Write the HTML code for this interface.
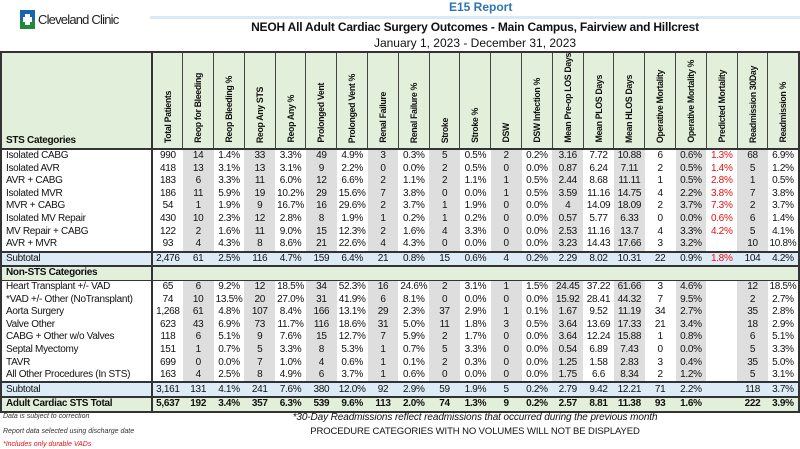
<!DOCTYPE html>
<html><head><meta charset="utf-8">
<style>
body{margin:0;width:800px;height:449px;background:#fff;position:relative;overflow:hidden;font-family:"Liberation Sans",sans-serif;color:#111}
.abs{position:absolute}
table{position:absolute;left:0;top:51px;width:800px;border-collapse:collapse;table-layout:fixed;border:2px solid #333;font-size:10px;letter-spacing:-0.3px}
col.g{background:#dedede}
td{padding:0;height:12.6px;line-height:12px;text-align:center;white-space:nowrap;overflow:hidden}
td.c{text-align:left;padding-left:4px;border-right:2px solid #333}
tr.h td{height:90px;line-height:10px;background:#e2efda;border-right:1px solid #444;border-bottom:2px solid #333;vertical-align:bottom;font-weight:bold}
tr.h td.c{border-right:2px solid #333;padding-bottom:2px}
.v{writing-mode:vertical-rl;transform:rotate(180deg);display:inline-block;font-size:8.8px;letter-spacing:-0.35px;padding-top:2px;line-height:10px}
tr.s td{background:#ddebf7;border-top:2px solid #333;border-bottom:2px solid #333}
tr.n td{background:#e2efda;font-weight:bold;border-bottom:1px solid #333}
tr.t td{background:#e2efda;font-weight:bold;border-top:2px solid #333}
.r{color:#e81010}
</style></head><body>
<div class="abs" style="left:20px;top:10px;width:15px;height:10px;background:#1565b0"></div>
<div class="abs" style="left:20px;top:20px;width:15px;height:9px;background:#1f8a3c"></div>
<div class="abs" style="left:25px;top:14px;width:5px;height:11px;background:#fff"></div>
<div class="abs" style="left:23px;top:17px;width:9px;height:5px;background:#fff"></div>
<div class="abs" style="left:38px;top:12px;font-size:13px;letter-spacing:-0.8px;color:#222">Cleveland Clinic</div>
<div class="abs" style="left:150px;top:16px;width:650px;height:3px;background:#dbe8f5"></div>
<div class="abs" style="left:449px;top:0px;font-size:12px;font-weight:bold;color:#2e75b6">E15 Report</div>
<div class="abs" style="left:150px;width:650px;top:20px;text-align:center;font-size:12px;font-weight:bold;letter-spacing:-0.2px">NEOH All Adult Cardiac Surgery Outcomes - Main Campus, Fairview and Hillcrest</div>
<div class="abs" style="left:150px;width:650px;top:36px;text-align:center;font-size:12px">January 1, 2023 - December 31, 2023</div>
<table>
<colgroup><col style="width:151px"><col><col class="g"><col><col class="g"><col><col class="g"><col><col class="g"><col><col class="g"><col><col class="g"><col><col class="g"><col><col class="g"><col><col class="g"><col><col class="g"><col></colgroup>
<tr class="h"><td class="c">STS Categories</td><td><span class="v">Total Patients</span></td><td><span class="v">Reop for Bleeding</span></td><td><span class="v">Reop Bleeding %</span></td><td><span class="v">Reop Any STS</span></td><td><span class="v">Reop Any %</span></td><td><span class="v">Prolonged Vent</span></td><td><span class="v">Prolonged Vent %</span></td><td><span class="v">Renal Failure</span></td><td><span class="v">Renal Failure %</span></td><td><span class="v">Stroke</span></td><td><span class="v">Stroke %</span></td><td><span class="v">DSW</span></td><td><span class="v">DSW Infection %</span></td><td><span class="v">Mean Pre-op LOS Days</span></td><td><span class="v">Mean PLOS Days</span></td><td><span class="v">Mean HLOS Days</span></td><td><span class="v">Operative Mortality</span></td><td><span class="v">Operative Mortality %</span></td><td><span class="v">Predicted Mortality</span></td><td><span class="v">Readmission 30Day</span></td><td style="border-right:none"><span class="v">Readmission %</span></td></tr>
<tr><td class="c">Isolated CABG</td><td>990</td><td>14</td><td>1.4%</td><td>33</td><td>3.3%</td><td>49</td><td>4.9%</td><td>3</td><td>0.3%</td><td>5</td><td>0.5%</td><td>2</td><td>0.2%</td><td>3.16</td><td>7.72</td><td>10.88</td><td>6</td><td>0.6%</td><td class="r">1.3%</td><td>68</td><td>6.9%</td></tr>
<tr><td class="c">Isolated AVR</td><td>418</td><td>13</td><td>3.1%</td><td>13</td><td>3.1%</td><td>9</td><td>2.2%</td><td>0</td><td>0.0%</td><td>2</td><td>0.5%</td><td>0</td><td>0.0%</td><td>0.87</td><td>6.24</td><td>7.11</td><td>2</td><td>0.5%</td><td class="r">1.4%</td><td>5</td><td>1.2%</td></tr>
<tr><td class="c">AVR + CABG</td><td>183</td><td>6</td><td>3.3%</td><td>11</td><td>6.0%</td><td>12</td><td>6.6%</td><td>2</td><td>1.1%</td><td>2</td><td>1.1%</td><td>1</td><td>0.5%</td><td>2.44</td><td>8.68</td><td>11.11</td><td>1</td><td>0.5%</td><td class="r">2.8%</td><td>1</td><td>0.5%</td></tr>
<tr><td class="c">Isolated MVR</td><td>186</td><td>11</td><td>5.9%</td><td>19</td><td>10.2%</td><td>29</td><td>15.6%</td><td>7</td><td>3.8%</td><td>0</td><td>0.0%</td><td>1</td><td>0.5%</td><td>3.59</td><td>11.16</td><td>14.75</td><td>4</td><td>2.2%</td><td class="r">3.8%</td><td>7</td><td>3.8%</td></tr>
<tr><td class="c">MVR + CABG</td><td>54</td><td>1</td><td>1.9%</td><td>9</td><td>16.7%</td><td>16</td><td>29.6%</td><td>2</td><td>3.7%</td><td>1</td><td>1.9%</td><td>0</td><td>0.0%</td><td>4</td><td>14.09</td><td>18.09</td><td>2</td><td>3.7%</td><td class="r">7.3%</td><td>2</td><td>3.7%</td></tr>
<tr><td class="c">Isolated MV Repair</td><td>430</td><td>10</td><td>2.3%</td><td>12</td><td>2.8%</td><td>8</td><td>1.9%</td><td>1</td><td>0.2%</td><td>1</td><td>0.2%</td><td>0</td><td>0.0%</td><td>0.57</td><td>5.77</td><td>6.33</td><td>0</td><td>0.0%</td><td class="r">0.6%</td><td>6</td><td>1.4%</td></tr>
<tr><td class="c">MV Repair + CABG</td><td>122</td><td>2</td><td>1.6%</td><td>11</td><td>9.0%</td><td>15</td><td>12.3%</td><td>2</td><td>1.6%</td><td>4</td><td>3.3%</td><td>0</td><td>0.0%</td><td>2.53</td><td>11.16</td><td>13.7</td><td>4</td><td>3.3%</td><td class="r">4.2%</td><td>5</td><td>4.1%</td></tr>
<tr><td class="c">AVR + MVR</td><td>93</td><td>4</td><td>4.3%</td><td>8</td><td>8.6%</td><td>21</td><td>22.6%</td><td>4</td><td>4.3%</td><td>0</td><td>0.0%</td><td>0</td><td>0.0%</td><td>3.23</td><td>14.43</td><td>17.66</td><td>3</td><td>3.2%</td><td></td><td>10</td><td>10.8%</td></tr>
<tr class="s"><td class="c">Subtotal</td><td>2,476</td><td>61</td><td>2.5%</td><td>116</td><td>4.7%</td><td>159</td><td>6.4%</td><td>21</td><td>0.8%</td><td>15</td><td>0.6%</td><td>4</td><td>0.2%</td><td>2.29</td><td>8.02</td><td>10.31</td><td>22</td><td>0.9%</td><td class="r">1.8%</td><td>104</td><td>4.2%</td></tr>
<tr class="n"><td class="c">Non-STS Categories</td><td colspan="21"></td></tr>
<tr><td class="c">Heart Transplant +/- VAD</td><td>65</td><td>6</td><td>9.2%</td><td>12</td><td>18.5%</td><td>34</td><td>52.3%</td><td>16</td><td>24.6%</td><td>2</td><td>3.1%</td><td>1</td><td>1.5%</td><td>24.45</td><td>37.22</td><td>61.66</td><td>3</td><td>4.6%</td><td></td><td>12</td><td>18.5%</td></tr>
<tr><td class="c">*VAD +/- Other (NoTransplant)</td><td>74</td><td>10</td><td>13.5%</td><td>20</td><td>27.0%</td><td>31</td><td>41.9%</td><td>6</td><td>8.1%</td><td>0</td><td>0.0%</td><td>0</td><td>0.0%</td><td>15.92</td><td>28.41</td><td>44.32</td><td>7</td><td>9.5%</td><td></td><td>2</td><td>2.7%</td></tr>
<tr><td class="c">Aorta Surgery</td><td>1,268</td><td>61</td><td>4.8%</td><td>107</td><td>8.4%</td><td>166</td><td>13.1%</td><td>29</td><td>2.3%</td><td>37</td><td>2.9%</td><td>1</td><td>0.1%</td><td>1.67</td><td>9.52</td><td>11.19</td><td>34</td><td>2.7%</td><td></td><td>35</td><td>2.8%</td></tr>
<tr><td class="c">Valve Other</td><td>623</td><td>43</td><td>6.9%</td><td>73</td><td>11.7%</td><td>116</td><td>18.6%</td><td>31</td><td>5.0%</td><td>11</td><td>1.8%</td><td>3</td><td>0.5%</td><td>3.64</td><td>13.69</td><td>17.33</td><td>21</td><td>3.4%</td><td></td><td>18</td><td>2.9%</td></tr>
<tr><td class="c">CABG + Other w/o Valves</td><td>118</td><td>6</td><td>5.1%</td><td>9</td><td>7.6%</td><td>15</td><td>12.7%</td><td>7</td><td>5.9%</td><td>2</td><td>1.7%</td><td>0</td><td>0.0%</td><td>3.64</td><td>12.24</td><td>15.88</td><td>1</td><td>0.8%</td><td></td><td>6</td><td>5.1%</td></tr>
<tr><td class="c">Septal Myectomy</td><td>151</td><td>1</td><td>0.7%</td><td>5</td><td>3.3%</td><td>8</td><td>5.3%</td><td>1</td><td>0.7%</td><td>5</td><td>3.3%</td><td>0</td><td>0.0%</td><td>0.54</td><td>6.89</td><td>7.43</td><td>0</td><td>0.0%</td><td></td><td>5</td><td>3.3%</td></tr>
<tr><td class="c">TAVR</td><td>699</td><td>0</td><td>0.0%</td><td>7</td><td>1.0%</td><td>4</td><td>0.6%</td><td>1</td><td>0.1%</td><td>2</td><td>0.3%</td><td>0</td><td>0.0%</td><td>1.25</td><td>1.58</td><td>2.83</td><td>3</td><td>0.4%</td><td></td><td>35</td><td>5.0%</td></tr>
<tr><td class="c">All Other Procedures (In STS)</td><td>163</td><td>4</td><td>2.5%</td><td>8</td><td>4.9%</td><td>6</td><td>3.7%</td><td>1</td><td>0.6%</td><td>0</td><td>0.0%</td><td>0</td><td>0.0%</td><td>1.75</td><td>6.6</td><td>8.34</td><td>2</td><td>1.2%</td><td></td><td>5</td><td>3.1%</td></tr>
<tr class="s"><td class="c">Subtotal</td><td>3,161</td><td>131</td><td>4.1%</td><td>241</td><td>7.6%</td><td>380</td><td>12.0%</td><td>92</td><td>2.9%</td><td>59</td><td>1.9%</td><td>5</td><td>0.2%</td><td>2.79</td><td>9.42</td><td>12.21</td><td>71</td><td>2.2%</td><td></td><td>118</td><td>3.7%</td></tr>
<tr class="t"><td class="c">Adult Cardiac STS Total</td><td>5,637</td><td>192</td><td>3.4%</td><td>357</td><td>6.3%</td><td>539</td><td>9.6%</td><td>113</td><td>2.0%</td><td>74</td><td>1.3%</td><td>9</td><td>0.2%</td><td>2.57</td><td>8.81</td><td>11.38</td><td>93</td><td>1.6%</td><td></td><td>222</td><td>3.9%</td></tr>
</table>
<div class="abs" style="left:3px;top:413px;font-size:7px;font-style:italic;color:#333">Data is subject to correction</div>
<div class="abs" style="left:3px;top:428px;font-size:7px;font-style:italic;color:#333">Report data selected using discharge date</div>
<div class="abs" style="left:3px;top:441px;font-size:7px;font-style:italic;color:#e81010">*Includes only durable VADs</div>
<div class="abs" style="left:150px;width:650px;top:412px;text-align:center;font-size:10px;font-style:italic;letter-spacing:-0.1px">*30-Day Readmissions reflect readmissions that occurred during the previous month</div>
<div class="abs" style="left:150px;width:650px;top:426px;text-align:center;font-size:9.5px;letter-spacing:-0.1px">PROCEDURE CATEGORIES WITH NO VOLUMES WILL NOT BE DISPLAYED</div>
</body></html>
